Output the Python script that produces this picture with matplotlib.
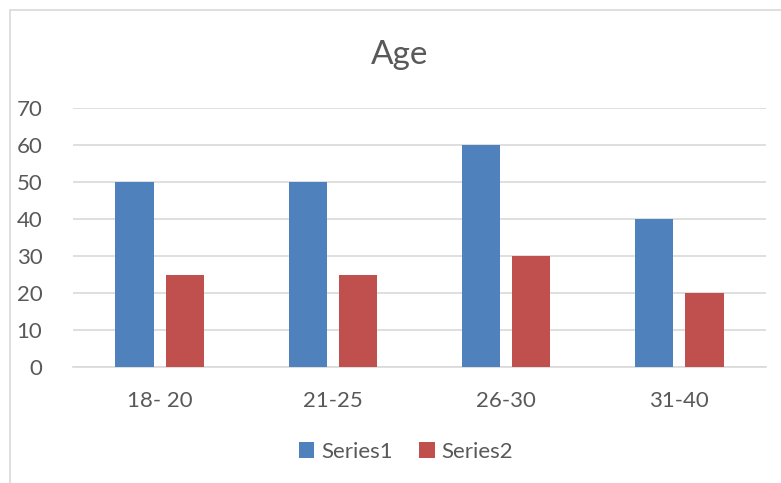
import numpy as np
import matplotlib.pyplot as plt
from matplotlib.patches import Rectangle

# Chart data
categories = ['18- 20', '21-25', '26-30', '31-40']
series1 = [50, 50, 60, 40]
series2 = [25, 25, 30, 20]
series_names = ['Series1', 'Series2']

plt.rcParams['font.family'] = ['Lato', 'DejaVu Sans']
text_color = '#595959'

fig = plt.figure(figsize=(7.81, 4.83), dpi=100)

# chart area border (left and top visible, rest cropped)
fig.patches.append(Rectangle((10 / 781, -0.1), 1.2, 1 - 10 / 483 + 0.1,
                             transform=fig.transFigure, fill=False,
                             edgecolor='#D9D9D9', linewidth=1.2))

ax = fig.add_axes([73 / 781, 1 - 367 / 483, (766 - 73) / 781, (367 - 108) / 483])

x = np.arange(len(categories))
w = 0.22
ax.bar(x - 0.145, series1, w, color='#4F81BD', label=series_names[0], zorder=3)
ax.bar(x + 0.145, series2, w, color='#C0504D', label=series_names[1], zorder=3)

ax.set_xlim(-0.5, len(categories) - 0.5)
ax.set_ylim(0, 70)
ax.set_yticks(range(0, 71, 10))
ax.set_xticks(x)
ax.set_xticklabels(categories)
ax.grid(axis='y', color='#D9D9D9', linewidth=1.2, zorder=0)
for s in ['top', 'right', 'left']:
    ax.spines[s].set_visible(False)
ax.spines['bottom'].set_color('#D9D9D9')
ax.spines['bottom'].set_linewidth(1.2)
ax.tick_params(length=0, labelsize=16, colors=text_color)
ax.tick_params(axis='y', pad=22)
ax.tick_params(axis='x', pad=17)

fig.text(0.512, 1 - 55 / 483, 'Age', ha='center', va='center', fontsize=24, color=text_color)

fig.legend(loc='center', bbox_to_anchor=(0.52, 1 - 452 / 483), ncol=2, frameon=False,
           fontsize=16, labelcolor=text_color, handlelength=0.7, handleheight=0.7,
           handletextpad=0.3, columnspacing=1.2)

fig.savefig('out.png', dpi=100)
